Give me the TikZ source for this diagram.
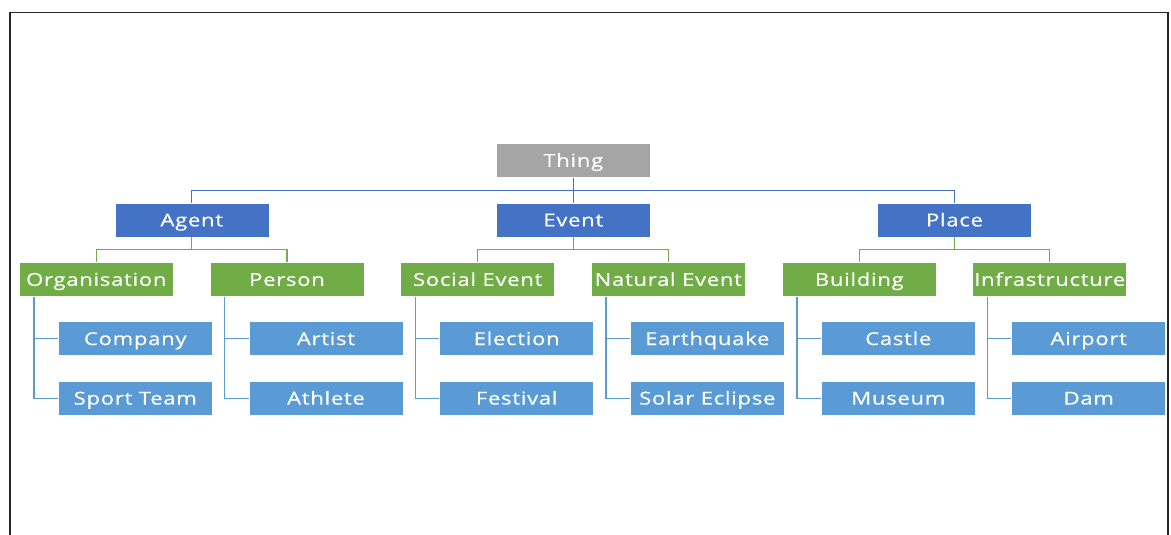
\documentclass[tikz,border=0pt]{standalone}
\usepackage{fontspec}
\setmainfont{Open Sans}
\newfontfamily\boxfont[FakeStretch=1.24, LetterSpace=4, FakeBold=0.45]{Open Sans}
\definecolor{cgray}{HTML}{A5A5A5}
\definecolor{cblue}{HTML}{4472C4}
\definecolor{cgreen}{HTML}{70AD47}
\definecolor{clblue}{HTML}{5B9BD5}
\begin{document}
\begin{tikzpicture}[x=1pt,y=-1pt,
  box/.style={draw=white, line width=0.6pt, minimum width=154pt, minimum height=34pt, inner sep=0pt, text=white, text height=12.7pt, text depth=0pt, font=\boxfont\fontsize{17.8}{19}\selectfont},
  gbox/.style={box, fill=cgray},
  bbox/.style={box, fill=cblue},
  grbox/.style={box, fill=cgreen},
  lbox/.style={box, fill=clblue},
  c1/.style={draw=cblue, line width=1.3pt},
  c2/.style={draw=cgreen, line width=1.3pt},
  c3/.style={draw=clblue, line width=1.3pt}]
\useasboundingbox (0,0) rectangle (1171,535);
\draw[line width=1.6pt, draw=black!85] (10,535) -- (10,12.7) -- (1168,12.7) -- (1168,535);
% root
\node[gbox] (thing) at (573.3,160.4) {Thing};
% level 1
\node[bbox] (agent) at (191.8,220) {Agent};
\node[bbox] (event) at (573.3,220) {Event};
\node[bbox] (place) at (954.5,220) {Place};
% level 2
\node[grbox] (org) at (96.3,279.5) {Organisation};
\node[grbox] (person) at (287,279.5) {Person};
\node[grbox] (social) at (477.7,279.5) {Social Event};
\node[grbox] (natural) at (668.3,279.5) {Natural Event};
\node[grbox] (building) at (859.3,279.5) {Building};
\node[grbox] (infra) at (1049.7,279.5) {Infrastructure};
% level 3
\node[lbox] (company) at (135.3,338.7) {Company};
\node[lbox] (sport) at (135.3,398.2) {Sport Team};
\node[lbox] (artist) at (326,338.7) {Artist};
\node[lbox] (athlete) at (326,398.2) {Athlete};
\node[lbox] (election) at (516.7,338.7) {Election};
\node[lbox] (festival) at (516.7,398.2) {Festival};
\node[lbox] (quake) at (707.3,338.7) {Earthquake};
\node[lbox] (eclipse) at (707.3,398.2) {Solar Eclipse};
\node[lbox] (castle) at (898.3,338.7) {Castle};
\node[lbox] (museum) at (898.3,398.2) {Museum};
\node[lbox] (airport) at (1088.7,338.7) {Airport};
\node[lbox] (dam) at (1088.7,398.2) {Dam};
% connectors level 1
\foreach \c in {agent,event,place}
  \draw[c1] (thing.south) -- ++(0,12.7) -| (\c.north);
% connectors level 2
\foreach \p/\a/\b in {agent/org/person, event/social/natural, place/building/infra}{
  \draw[c2] (\p.south) -- ++(0,12.3) -| (\a.north);
  \draw[c2] (\p.south) -- ++(0,12.3) -| (\b.north);
}
% connectors level 3
\foreach \p/\a/\b in {org/company/sport, person/artist/athlete, social/election/festival, natural/quake/eclipse, building/castle/museum, infra/airport/dam}{
  \draw[c3] ([xshift=15pt]\p.south west) |- (\a.west);
  \draw[c3] ([xshift=15pt]\p.south west) |- (\b.west);
}
\end{tikzpicture}
\end{document}
